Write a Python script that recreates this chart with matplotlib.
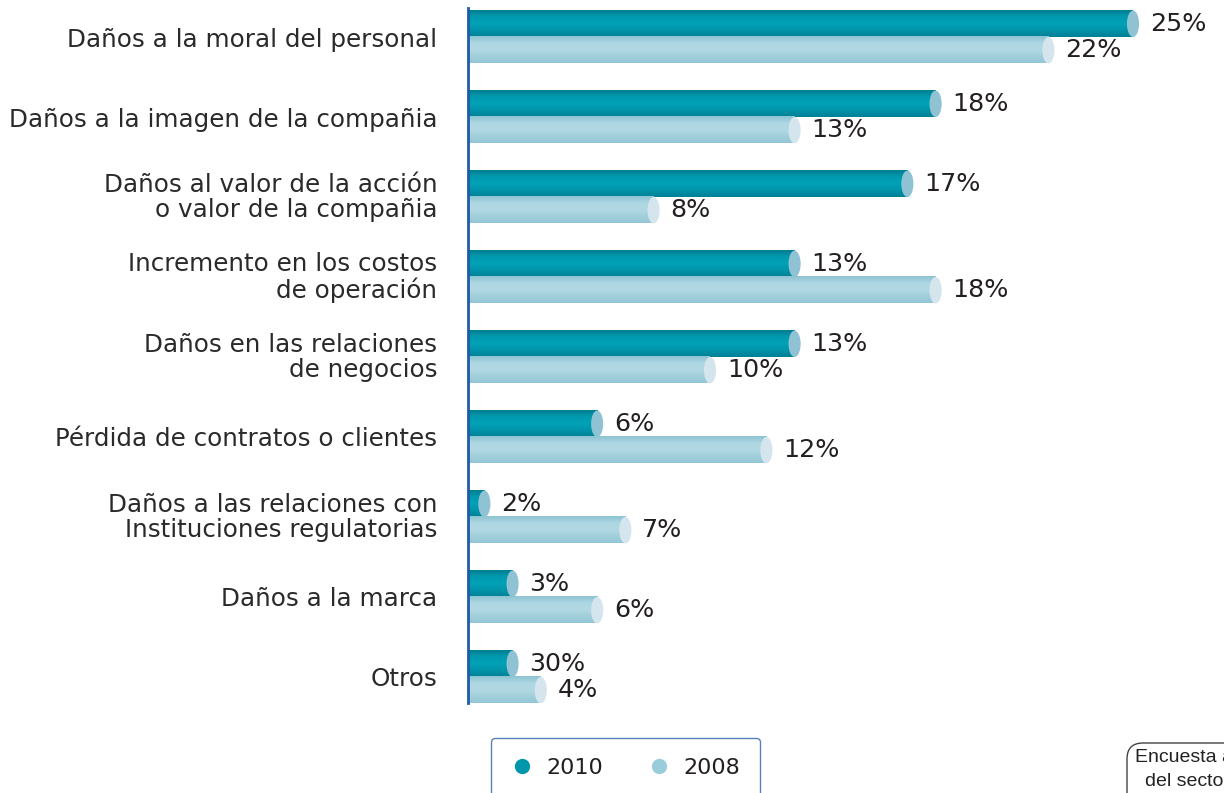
import numpy as np
import matplotlib.pyplot as plt
import matplotlib.transforms as mtransforms
from matplotlib.colors import LinearSegmentedColormap
from matplotlib.patches import Ellipse, FancyBboxPatch
from matplotlib.lines import Line2D

# datos
categorias = [
    "Daños a la moral del personal",
    "Daños a la imagen de la compañia",
    "Daños al valor de la acción\no valor de la compañia",
    "Incremento en los costos\nde operación",
    "Daños en las relaciones\nde negocios",
    "Pérdida de contratos o clientes",
    "Daños a las relaciones con\nInstituciones regulatorias",
    "Daños a la marca",
    "Otros",
]
valores_2010 = [25, 18, 17, 13, 13, 6, 2, 3, 3]
valores_2008 = [22, 13, 8, 18, 10, 12, 7, 6, 4]
etiquetas_2010 = ["25%", "18%", "17%", "13%", "13%", "6%", "2%", "3%", "30%"]
etiquetas_2008 = ["22%", "13%", "8%", "18%", "10%", "12%", "7%", "6%", "4%"]
series = ["2010", "2008"]

# colores (degradado tipo cilindro)
cmap_2010 = LinearSegmentedColormap.from_list(
    "c2010", ["#007E93", "#009AAF", "#00A2B6", "#0094A9", "#008095"])
cmap_2008 = LinearSegmentedColormap.from_list(
    "c2008", ["#8CC3D2", "#ADD7E2", "#B2D9E3", "#A2CFDB", "#93C7D5"])
tapa_2010 = "#8FC3D3"
tapa_2008 = "#D5E5ED"
color_texto = "#231F20"

fig = plt.figure(figsize=(12.24, 7.93), dpi=100)
ax = fig.add_axes([468 / 1224, 1 - 703 / 793, 1 - 468 / 1224, 703 / 793])

x0 = 1.42           # el eje vertical no esta en el cero
alto = 0.33
ancho_tapa = 0.43
grad = np.linspace(0, 1, 64).reshape(-1, 1)

for i in range(len(categorias)):
    for v, dy, cm, tapa, et in [
        (valores_2010[i], -alto / 2, cmap_2010, tapa_2010, etiquetas_2010[i]),
        (valores_2008[i], alto / 2, cmap_2008, tapa_2008, etiquetas_2008[i]),
    ]:
        y = i + dy
        ax.imshow(grad, cmap=cm, aspect="auto", interpolation="bicubic",
                  extent=(x0, v, y + alto / 2, y - alto / 2), zorder=2)
        ax.add_patch(Ellipse((v, y), ancho_tapa, alto, facecolor=tapa,
                             edgecolor="none", zorder=3))
        ax.text(v + 0.6, y, et, va="center", ha="left", fontsize=18.3,
                color=color_texto)

ax.set_xlim(x0, (1224 - 428) / 28.2)
ax.set_ylim(8.325, -0.4625)
ax.set_xticks([])
ax.set_yticks(range(len(categorias)))
ax.set_yticklabels(categorias, fontsize=17.7, color="#2A2A2A", linespacing=1.08)
ax.tick_params(axis="y", length=0, pad=22)
# las etiquetas de dos lineas van un poco mas arriba
subir = mtransforms.ScaledTranslation(0, 0.03, fig.dpi_scale_trans)
for lab in ax.get_yticklabels():
    if "\n" in lab.get_text():
        lab.set_transform(lab.get_transform() + subir)
for s in ["top", "right", "bottom"]:
    ax.spines[s].set_visible(False)
ax.spines["left"].set_color("#1F5BA6")
ax.spines["left"].set_linewidth(2)
ax.spines["left"].set_bounds(8.325, -0.36)
ax.set_facecolor("none")

# leyenda
handles = [
    Line2D([], [], marker="o", linestyle="none", markersize=11,
           markerfacecolor="#0097AB", markeredgecolor="none"),
    Line2D([], [], marker="o", linestyle="none", markersize=11,
           markerfacecolor="#9ACDDA", markeredgecolor="none"),
]
leg = fig.legend(handles, series, loc="upper left",
                 bbox_to_anchor=(491 / 1224, 1 - 738 / 793), ncol=2,
                 fontsize=16, frameon=True, fancybox=True, borderpad=0.9,
                 handlelength=1.0, handletextpad=0.6, columnspacing=2.0,
                 borderaxespad=0)
leg.get_frame().set_edgecolor("#2F62A8")
leg.get_frame().set_linewidth(1.0)
for t in leg.get_texts():
    t.set_color(color_texto)

# recuadro de la fuente (cortado por el borde, como en el original)
caja = FancyBboxPatch((1127, -30), 200, 30 + 793 - 743,
                      boxstyle="round,pad=0,rounding_size=16",
                      transform=mtransforms.IdentityTransform(),
                      facecolor="white", edgecolor="#444444", linewidth=1)
fig.patches.append(caja)
fig.text(1135 / 1224, 1 - 757 / 793, "Encuesta a", fontsize=14,
         family="Liberation Sans", va="center", color="#222222")
fig.text(1145 / 1224, 1 - 781 / 793, "del sector", fontsize=14,
         family="Liberation Sans", va="center", color="#222222")

fig.savefig("out.png", dpi=100)
